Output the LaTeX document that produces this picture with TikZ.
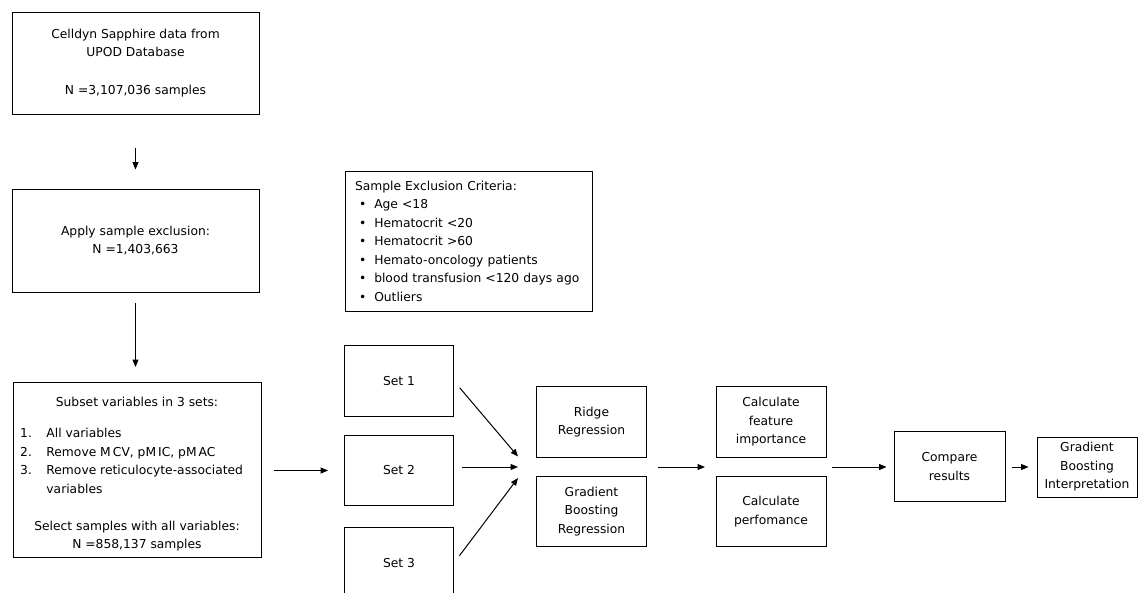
\documentclass[tikz,border=0pt]{standalone}
\usepackage{fontspec}
\setmainfont{DejaVu Sans}
\usetikzlibrary{arrows.meta}

\begin{document}
\begin{tikzpicture}[x=1pt, y=-1pt, font=\fontsize{12.3}{18.5}\selectfont,
    box/.style={draw, line width=0.9pt, inner sep=0pt, align=center},
    flow/.style={-{Triangle[length=7.5pt,width=6pt]}, line width=1pt}]
    \clip (0,0) rectangle (1138,592);
    \node[box, minimum width=247pt, minimum height=102pt] (source) at (135.5,63)
      {Celldyn Sapphire data from\\UPOD Database\\[19pt]N =3,107,036 samples};
    \node[box, minimum width=247pt, minimum height=103pt] (exclude) at (135.5,240.5)
      {Apply sample exclusion:\\N =1,403,663};
    \node[box, minimum width=248pt, minimum height=175pt] (subset) at (137,470) {};
    \node (subtitle) at (137,402) {Subset variables in 3 sets:};
    \node[anchor=west, inner sep=0pt] (setlist) at (20,462)
      {\begin{tabular}{@{}l@{\hspace{14.5pt}}l@{}}
        1. & All variables\\
        2. & Remove M\,CV, pM\,IC, pM\,AC\\
        3. & Remove reticulocyte-associated\\
           & variables
      \end{tabular}};
    \node[align=center] (complete) at (137,536)
      {Select samples with all variables:\\N =858,137 samples};
    \node[box, align=left, text width=227pt, inner xsep=10pt, minimum height=140pt]
      (criteria) at (468.5,241)
      {Sample Exclusion Criteria:\\
       \hspace*{4pt}\textbullet\hspace{8pt}Age <18\\
       \hspace*{4pt}\textbullet\hspace{8pt}Hematocrit <20\\
       \hspace*{4pt}\textbullet\hspace{8pt}Hematocrit >60\\
       \hspace*{4pt}\textbullet\hspace{8pt}Hemato-oncology patients\\
       \hspace*{4pt}\textbullet\hspace{8pt}blood transfusion <120 days ago\\
       \hspace*{4pt}\textbullet\hspace{8pt}Outliers};
    \node[box, minimum width=109pt, minimum height=71pt] (set1) at (399,381) {Set 1};
    \node[box, minimum width=109pt, minimum height=70pt] (set2) at (399,470.5) {Set 2};
    \node[box, minimum width=109pt, minimum height=71pt] (set3) at (399,563) {Set 3};
    \node[box, minimum width=110pt, minimum height=70.5pt] (ridge) at (591.5,422) {Ridge\\Regression};
    \node[box, minimum width=110pt, minimum height=70pt] (gbr) at (591.5,511.5) {Gradient\\Boosting\\Regression};
    \node[box, minimum width=110pt, minimum height=70.5pt] (feature) at (771,422) {Calculate\\feature\\importance};
    \node[box, minimum width=110pt, minimum height=70pt] (perform) at (771,511.5) {Calculate\\perfomance};
    \node[box, minimum width=111pt, minimum height=70pt] (compare) at (949.5,466.5) {Compare\\results};
    \node[box, minimum width=100pt, minimum height=60pt] (interp) at (1087,467) {Gradient\\Boosting\\Interpretation};
    \coordinate (tip1) at (518,456.5);
    \coordinate (tip2) at (518,467);
    \coordinate (tip3) at (518,478);
    \coordinate (models) at (647,467);
    \coordinate (metrics) at (716,467);
    \coordinate (results) at (826,467);
    \draw[flow, shorten <=34pt, shorten >=19pt] (source.south) -- (source.south |- exclude.north);
    \draw[flow, shorten <=11pt, shorten >=15pt] (exclude.south) -- (exclude.south |- subset.north);
    \draw[flow, shorten <=13pt, shorten >=16pt] (subset.east |- set2) -- (set2.west);
    \draw[flow, shorten <=9pt] (set1.east) -- (tip1);
    \draw[flow, shorten <=8pt] (set2.east |- tip2) -- (tip2);
    \draw[flow, shorten <=9pt] (set3.east) -- (tip3);
    \draw[flow, shorten <=11pt, shorten >=11pt] (models) -- (metrics);
    \draw[flow, shorten <=6pt, shorten >=7pt] (results) -- (compare.west |- results);
    \draw[flow, shorten <=7pt, shorten >=8pt] (compare.east |- interp) -- (interp.west);
\end{tikzpicture}
\end{document}
